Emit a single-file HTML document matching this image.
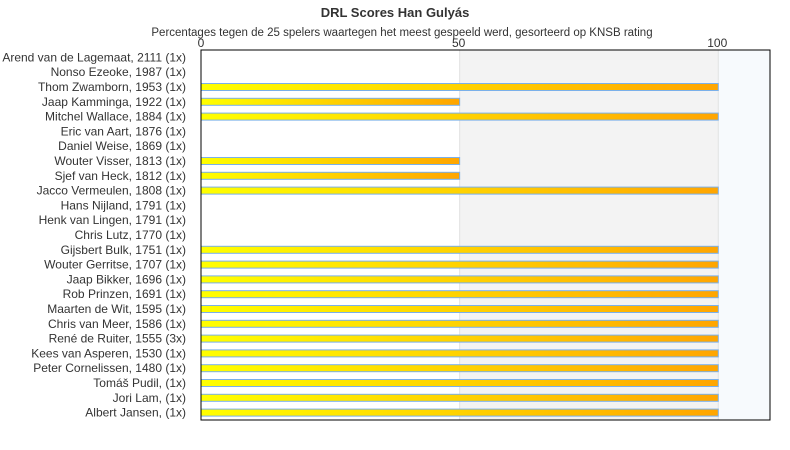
<!DOCTYPE html>
<html><head><meta charset="utf-8"><style>
body{margin:0;background:#fff;}
svg{display:block;font-family:"Liberation Sans",sans-serif;}
</style></head><body>
<svg id="chart" width="790" height="450">
<defs><linearGradient id="g" x1="0" x2="1" y1="0" y2="0"><stop offset="0" stop-color="#ffff00"/><stop offset="1" stop-color="#ffa500"/></linearGradient></defs>
<text x="395" y="17" text-anchor="middle" font-size="13" font-weight="bold" fill="#333">DRL Scores Han Gulyás</text>
<text x="402" y="36" text-anchor="middle" font-size="11.5" fill="#333">Percentages tegen de 25 spelers waartegen het meest gespeeld werd, gesorteerd op KNSB rating</text>
<g id="plot"></g>
</svg>
<script>
const categories=["Arend van de Lagemaat, 2111 (1x)","Nonso Ezeoke, 1987 (1x)","Thom Zwamborn, 1953 (1x)","Jaap Kamminga, 1922 (1x)","Mitchel Wallace, 1884 (1x)","Eric van Aart, 1876 (1x)","Daniel Weise, 1869 (1x)","Wouter Visser, 1813 (1x)","Sjef van Heck, 1812 (1x)","Jacco Vermeulen, 1808 (1x)","Hans Nijland, 1791 (1x)","Henk van Lingen, 1791 (1x)","Chris Lutz, 1770 (1x)","Gijsbert Bulk, 1751 (1x)","Wouter Gerritse, 1707 (1x)","Jaap Bikker, 1696 (1x)","Rob Prinzen, 1691 (1x)","Maarten de Wit, 1595 (1x)","Chris van Meer, 1586 (1x)","René de Ruiter, 1555 (3x)","Kees van Asperen, 1530 (1x)","Peter Cornelissen, 1480 (1x)","Tomáš Pudil,  (1x)","Jori Lam,  (1x)","Albert Jansen,  (1x)"];
const scores=[0,0,100,50,100,0,0,50,50,100,0,0,0,100,100,100,100,100,100,100,100,100,100,100,100];
const ticks=[0,50,100];
const NS="http://www.w3.org/2000/svg";
const X0=201,X1=770,Y0=50,Y1=420,XMAX=110;
const x=v=>X0+(X1-X0)*v/XMAX;
const band=(Y1-Y0)/categories.length;
const y=i=>Y0+band*(i+0.5);
const g=document.getElementById('plot');
function mk(t,a){const e=document.createElementNS(NS,t);for(const k in a)e.setAttribute(k,a[k]);g.appendChild(e);return e;}
let r=mk('rect',{x:x(50),y:Y0,width:x(100)-x(50),height:Y1-Y0,fill:'#f3f3f3'});


r=mk('rect',{x:x(100),y:Y0,width:X1-x(100),height:Y1-Y0,fill:'#f7fafd'});


ticks.forEach(t=>{
 let l=mk('line',{x1:x(t),x2:x(t),y1:Y0,y2:Y1,stroke:'#e2e2e2'});
 
 
 let tx=mk('text',{x:x(t)-(t?1:0),y:47,'text-anchor':'middle','font-size':12,fill:'#333'});
 tx.textContent=t;
 
 
});
categories.forEach((c,i)=>{
 let tx=mk('text',{x:186,y:y(i)+4,'text-anchor':'end','font-size':12,fill:'#333'});
 tx.textContent=c;
 
 
 if(scores[i]>0){
  let b=mk('rect',{x:X0,y:y(i)-3.5,width:x(scores[i])-X0,height:7,fill:'url(#g)',stroke:'#7ab0ea','stroke-width':1});
  
  
 }
});
let ax=mk('path',{d:`M${X0} ${Y0}H${X1}V${Y1}H${X0}Z`,fill:'none',stroke:'#000','stroke-width':1});


</script>
</body></html>
